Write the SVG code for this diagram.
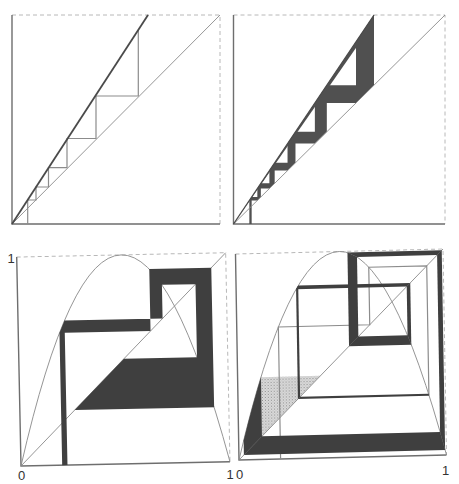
<svg xmlns="http://www.w3.org/2000/svg" width="459" height="484" viewBox="0 0 459 484">
<defs>
<style>
.ax{stroke:#6e6e6e;stroke-width:1.4;fill:none}
.dash{stroke:#b8b8b8;stroke-width:1;stroke-dasharray:4 3;fill:none}
.diag{stroke:#8a8a8a;stroke-width:0.9;fill:none}
.graph{stroke:#4a4a4a;stroke-width:1.8;fill:none}
.graph2{stroke:#4a4a4a;stroke-width:1.3;fill:none}
.thin{stroke:#8c8c8c;stroke-width:1.2;fill:none}
.curve{stroke:#8a8a8a;stroke-width:0.9;fill:none}
.band{fill:#3f3f3f;stroke:none}
.bandl{fill:#505050;stroke:none}
.lbl{font-family:"Liberation Sans",Arial,sans-serif;font-size:13px;fill:#333;text-anchor:middle}
</style>
<pattern id="dots" width="3" height="3" patternUnits="userSpaceOnUse">
<rect width="3" height="3" fill="#dcdcdc"/>
<rect width="1" height="1" fill="#8a8a8a"/>
<rect x="1.5" y="1.5" width="1" height="1" fill="#a5a5a5"/>
</pattern>
</defs>
<rect width="459" height="484" fill="#fff"/>

<g id="panel-tl">
<path class="dash" d="M12,15 H220 V224"/>
<path class="ax" d="M12,15 V224 H220"/>
<path class="diag" d="M12,224 L220,15"/>
<path class="thin" d="M27.7,224 V200 H36 V187 H48.5 V167.7 H67 V138.5 H96 V96 H138.3 V30"/>
<path class="graph" d="M12,224 L148,15"/>
</g>

<g id="panel-tr">
<path class="dash" d="M233.5,15 H445 V224"/>
<path class="ax" d="M233.5,15 V224 H445"/>
<polygon class="bandl" points="249.34,224 249.34,200.44 251.66,196.99 257.34,196.99 257.34,188.54 260.85,183.32 269.4,183.32 269.4,170.6 274.67,162.76 287.54,162.76 287.54,143.62 295.48,131.81 314.86,131.81 314.86,102.97 326.82,85.19 356,85.19 356,41.78 374,15 374,85.19 356,102.97 326.82,102.97 326.82,131.8 314.86,143.62 295.48,143.62 295.48,162.76 287.54,170.61 274.67,170.61 274.67,183.32 269.4,188.53 260.85,188.53 260.85,196.98 257.34,200.45 251.66,200.45 251.66,224"/>
<polygon class="bandl" points="233.5,224 374,15 374,22"/>
<path class="diag" d="M233.5,224 L445,15"/>
<path class="graph2" d="M233.5,224 L374,15"/>
</g>

<g id="panel-bl" transform="matrix(0.99979,-0.0206,0.0206,0.99979,21,466)">
<path class="dash" d="M0,-209 H209 V0"/>
<path class="ax" d="M0,-209 V0 H209"/>
<path class="curve" d="M0,0 Q104.5,-418 209,0"/>
<path class="diag" d="M0,0 L209,-209"/>
<polygon class="band" points="41.2,0 41.2,-132.3 46.5,-144.6 144.6,-144.6 144.6,-178.2 178.2,-178.2 178.2,-105.1 105.1,-105.1 54.8,-54.8 194.3,-54.8 194.3,-194.3 132.3,-194.3 132.3,-132.3 46.5,-132.3 46.5,0"/>
</g>

<g id="panel-br" transform="matrix(0.9976,-0.02404,0.01683,0.99038,239,460)">
<path class="dash" d="M0,-208 H208 V0"/>
<path class="ax" d="M0,-208 V0 H208"/>
<polygon fill="url(#dots)" points="5,-19.5 19.5,-19.5 83.1,-83.1 23.4,-83.1 20,-72.3 15,-55.67 10,-38.08"/>
<path class="curve" d="M0,0 Q104,-416 208,0"/>
<path class="diag" d="M0,0 L208,-208"/>
<path class="thin" d="M41.7,0 V-133.3 H133.3 V-191.4 H191.4 V-61"/>
<g class="band">
<polygon points="60.1,-60.1 191.72,-60.1 191.04,-62.3 62.3,-62.3"/>
<polygon points="60.1,-60.1 62.3,-62.3 62.3,-174.6 60.1,-171"/>
<polygon points="60.1,-171 171,-171 174.6,-174.6 62.3,-174.6"/>
<polygon points="171,-171 174.6,-174.6 174.6,-112.2 171,-121.7"/>
<polygon points="174.6,-112.2 112.2,-112.2 121.7,-121.7 171,-121.7"/>
<polygon points="112.2,-112.2 121.7,-121.7 121.7,-201.98 112.2,-206.7"/>
<polygon points="121.7,-201.98 201.98,-201.98 206.7,-206.7 112.2,-206.7"/>
<polygon points="201.98,-201.98 206.7,-206.7 206.7,-5 201.98,-23.4"/>
<polygon points="206.7,-5 5,-5 23.4,-23.4 201.98,-23.4"/>
<polygon points="5,-5 23.4,-23.4 23.4,-83.1 20,-72.3 15,-55.67 10,-38.08 5,-19.5"/>
</g>
</g>

<g id="labels">
<text class="lbl" x="11" y="262.5">1</text>
<text class="lbl" x="21.5" y="479.5">0</text>
<text class="lbl" x="230" y="479">1</text>
<text class="lbl" x="239.5" y="479">0</text>
<text class="lbl" x="445.5" y="474.5">1</text>
</g>
</svg>
